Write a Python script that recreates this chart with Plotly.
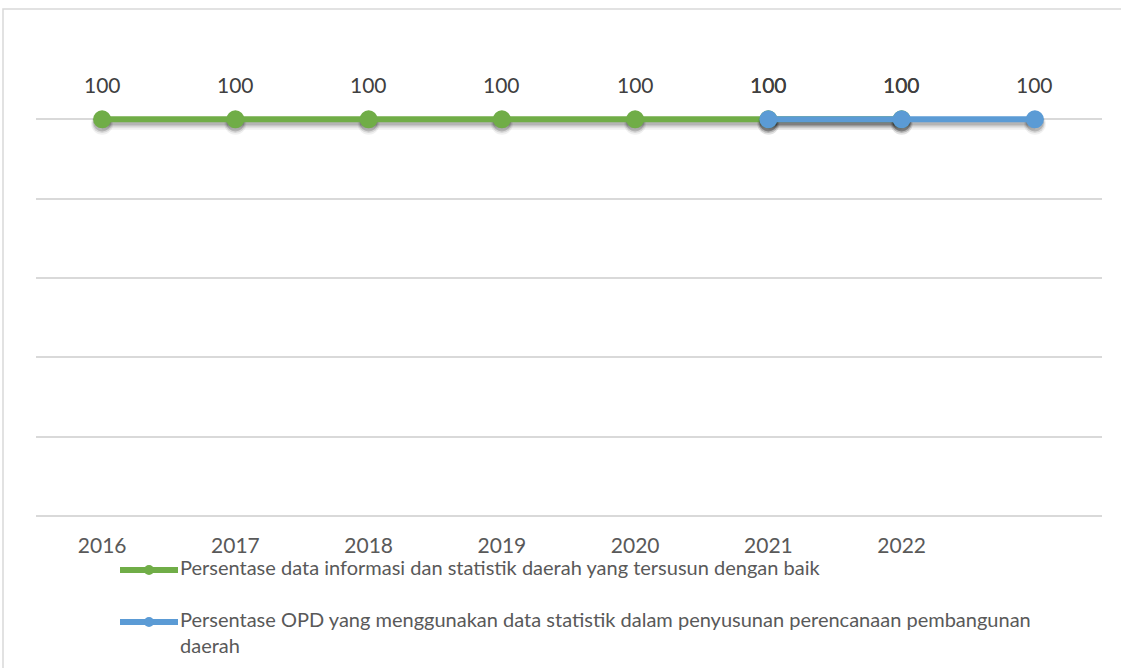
import plotly.graph_objects as go

# Category axis: the last slot carries no year label
years = ["2016", "2017", "2018", "2019", "2020", "2021", "2022", ""]
data_tersusun = [100, 100, 100, 100, 100, 100, 100, None]
opd_menggunakan = [None, None, None, None, None, 100, 100, 100]

legend_green = ["Persentase data informasi dan statistik daerah yang tersusun dengan baik"]
legend_blue = ["Persentase OPD yang menggunakan data statistik dalam penyusunan perencanaan pembangunan",
               "daerah"]

GREEN = "#70AD47"
BLUE = "#5B9BD5"
FONT = "Lato, 'Open Sans', sans-serif"

W, H = 1121, 668
x_dom = [35.5 / W, 1101.5 / W]
y_dom = [(H - 516) / H, (H - 40) / H]

xs = list(range(len(years)))

fig = go.Figure()


def add_series(vals, color):
    # blurred drop shadow beneath line and markers, built from layered translucent strokes
    for off, width, msize, alpha in [(1.1, 12, 22, 0.06), (0.95, 9, 20, 0.10), (0.8, 6, 18, 0.16)]:
        sh = [v - off if v is not None else None for v in vals]
        fig.add_trace(go.Scatter(x=xs, y=sh, mode="lines+markers",
                                 line=dict(color=f"rgba(0,0,0,{alpha})", width=width),
                                 marker=dict(color=f"rgba(0,0,0,{alpha})", size=msize),
                                 hoverinfo="skip", showlegend=False))
    fig.add_trace(go.Scatter(x=xs, y=vals, mode="lines+markers",
                             line=dict(color=color, width=6),
                             marker=dict(color=color, size=18),
                             showlegend=False))


add_series(data_tersusun, GREEN)
add_series(opd_menggunakan, BLUE)

# value labels above each point
for series in (data_tersusun, opd_menggunakan):
    for xi, v in zip(xs, series):
        if v is None:
            continue
        fig.add_annotation(x=xi, y=v, text=str(v), showarrow=False,
                           yshift=35, font=dict(family=FONT, size=21, color="#404040"))

# legend drawn below the axis, on a pixel-scaled overlay axis
legend_rows = [(legend_green, GREEN, 570), (legend_blue, BLUE, 622)]
for lines, color, py in legend_rows:
    fig.add_trace(go.Scatter(x=[120, 178], y=[py, py], mode="lines",
                             line=dict(color=color, width=6),
                             xaxis="x2", yaxis="y2", hoverinfo="skip", showlegend=False))
    fig.add_trace(go.Scatter(x=[149], y=[py], mode="markers",
                             marker=dict(color=color, size=10),
                             xaxis="x2", yaxis="y2", hoverinfo="skip", showlegend=False))
    fig.add_trace(go.Scatter(x=[180] * len(lines), y=[py + 26 * k for k in range(len(lines))],
                             mode="text", text=lines, textposition="middle right",
                             textfont=dict(family=FONT, size=20, color="#595959"),
                             xaxis="x2", yaxis="y2", hoverinfo="skip", showlegend=False))

# chart frame: left and top edges as one open path
fig.add_shape(type="path", xref="x2", yref="y2",
              path=f"M3,{H} L3,9 L{W},9",
              line=dict(color="#d9d9d9", width=1.5))

hidden = dict(visible=False, showgrid=False, zeroline=False, fixedrange=True)

fig.update_layout(
    width=W, height=H,
    margin=dict(l=0, r=0, t=0, b=0),
    paper_bgcolor="white", plot_bgcolor="rgba(0,0,0,0)",
    showlegend=False,
    font=dict(family=FONT, color="#595959"),
    xaxis=dict(domain=x_dom, range=[-0.5, len(years) - 0.5],
               tickmode="array", tickvals=xs, ticktext=years,
               showgrid=False, zeroline=False, showline=False,
               ticks="", tickfont=dict(size=21, color="#595959"),
               ticklabelstandoff=15),
    yaxis=dict(domain=y_dom, range=[0, 120], dtick=20,
               showticklabels=False, ticks="",
               gridcolor="#d9d9d9", gridwidth=1.5,
               zeroline=True, zerolinecolor="#d9d9d9", zerolinewidth=2),
    xaxis2=dict(domain=[0, 1], range=[0, W], anchor="y2", **hidden),
    yaxis2=dict(domain=[0, 1], range=[H, 0], anchor="x2", **hidden),
)

fig.write_html("out.html")
